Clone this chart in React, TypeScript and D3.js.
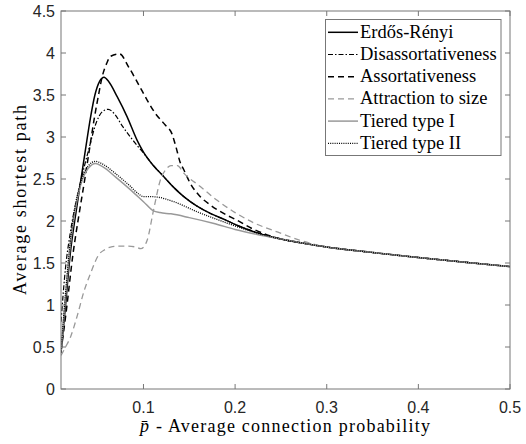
import React from "react";
import * as d3 from "d3";

const W = 526;
const H = 444;
const M = { left: 61, right: 16, top: 11, bottom: 55 };

const xTicks = [0.1, 0.2, 0.3, 0.4, 0.5];
const yTicks = [0, 0.5, 1, 1.5, 2, 2.5, 3, 3.5, 4, 4.5];

// Shared high-density tail (all models converge)
const tailX = [0.25, 0.275, 0.3, 0.35, 0.4, 0.45, 0.5];
const tailY = [1.785, 1.735, 1.69, 1.625, 1.565, 1.51, 1.457];

const erX = [0.01, 0.015, 0.02, 0.027, 0.0367, 0.042, 0.047, 0.052, 0.057, 0.062, 0.0713, 0.0822, 0.0931, 0.1, 0.11, 0.122, 0.133, 0.144, 0.158, 0.173, 0.19, 0.202, 0.228];
const erY = [0.43, 1.0, 1.6, 2.15, 2.85, 3.22, 3.5, 3.66, 3.71, 3.66, 3.48, 3.24, 2.96, 2.82, 2.67, 2.53, 2.4, 2.29, 2.18, 2.09, 2.01, 1.95, 1.845];

const disX = [0.01, 0.015, 0.02, 0.03, 0.04, 0.0495, 0.055, 0.0615, 0.068, 0.077, 0.093, 0.1, 0.11, 0.122, 0.133, 0.144, 0.158, 0.173, 0.19, 0.202, 0.228];
const disY = [0.8, 1.45, 1.85, 2.4, 2.84, 3.2, 3.3, 3.33, 3.28, 3.13, 2.9, 2.81, 2.67, 2.53, 2.4, 2.29, 2.18, 2.09, 2.01, 1.95, 1.85];

const asX = [0.01, 0.016, 0.023, 0.03, 0.036, 0.041, 0.046, 0.0513, 0.055, 0.06, 0.064, 0.0738, 0.084, 0.0949, 0.104, 0.113, 0.124, 0.131, 0.1355, 0.14, 0.144, 0.151, 0.162, 0.173, 0.1875, 0.202, 0.2185, 0.235];
const asY = [0.45, 0.95, 1.6, 2.1, 2.5, 2.85, 3.2, 3.52, 3.72, 3.88, 3.96, 3.99, 3.83, 3.62, 3.44, 3.28, 3.14, 3.04, 2.88, 2.7, 2.61, 2.45, 2.29, 2.19, 2.09, 2.01, 1.91, 1.835];

const atX = [0.01, 0.015, 0.0204, 0.0277, 0.035, 0.042, 0.0513, 0.058, 0.064, 0.072, 0.082, 0.092, 0.097, 0.101, 0.104, 0.111, 0.1185, 0.125, 0.13, 0.137, 0.144, 0.162, 0.18, 0.2, 0.22, 0.246, 0.271, 0.293];
const atY = [0.4, 0.5, 0.62, 0.87, 1.16, 1.37, 1.6, 1.66, 1.69, 1.7, 1.7, 1.69, 1.67, 1.7, 1.77, 2.13, 2.49, 2.62, 2.66, 2.66, 2.57, 2.41, 2.25, 2.1, 1.98, 1.87, 1.77, 1.705];

const t1X = [0.01, 0.015, 0.02, 0.025, 0.03, 0.035, 0.04, 0.0477, 0.055, 0.07, 0.085, 0.1, 0.111, 0.118, 0.13, 0.15, 0.177, 0.2, 0.224];
const t1Y = [0.45, 1.1, 1.7, 2.1, 2.37, 2.54, 2.63, 2.685, 2.65, 2.52, 2.38, 2.23, 2.12, 2.1, 2.085, 2.04, 1.97, 1.9, 1.84];

const t2X = [0.01, 0.015, 0.02, 0.025, 0.03, 0.035, 0.04, 0.0477, 0.055, 0.07, 0.085, 0.095, 0.1, 0.108, 0.115, 0.133, 0.1585, 0.1875, 0.2167];
const t2Y = [0.45, 1.15, 1.75, 2.15, 2.4, 2.57, 2.66, 2.71, 2.68, 2.56, 2.42, 2.32, 2.29, 2.29, 2.285, 2.23, 2.11, 1.99, 1.88];

const legendLabels = ["Erdős-Rényi", "Disassortativeness", "Assortativeness", "Attraction to size", "Tiered type I", "Tiered type II"];

type Series = { name: string; xs: number[]; ys: number[]; color: string; width: number; dash?: string };

const series: Series[] = [
  { name: legendLabels[0], xs: erX, ys: erY, color: "#000", width: 1.5 },
  { name: legendLabels[1], xs: disX, ys: disY, color: "#000", width: 1.2, dash: "5 2 1.5 2" },
  { name: legendLabels[2], xs: asX, ys: asY, color: "#000", width: 1.5, dash: "6 4" },
  { name: legendLabels[3], xs: atX, ys: atY, color: "#999", width: 1.3, dash: "6 4" },
  { name: legendLabels[4], xs: t1X, ys: t1Y, color: "#999", width: 1.5 },
  { name: legendLabels[5], xs: t2X, ys: t2Y, color: "#000", width: 1.3, dash: "1 1.2" },
];

function withTail(xs: number[], ys: number[]): [number, number][] {
  const pts: [number, number][] = xs.map((x, i) => [x, ys[i]]);
  const last = xs[xs.length - 1];
  tailX.forEach((x, i) => {
    if (x > last + 0.005) pts.push([x, tailY[i]]);
  });
  return pts;
}

const serifStyle = { fontFamily: "\"Liberation Serif\"" };
const sansStyle = { fontFamily: "\"Liberation Sans\"" };

export default function App() {
  const x = d3.scaleLinear().domain([0.01, 0.5]).range([M.left, W - M.right]);
  const y = d3.scaleLinear().domain([0, 4.5]).range([H - M.bottom, M.top]);
  const line = d3
    .line<[number, number]>()
    .x((d) => x(d[0]))
    .y((d) => y(d[1]))
    .curve(d3.curveMonotoneX);

  const x0 = M.left, x1 = W - M.right, y0 = H - M.bottom, y1 = M.top;
  const axisColor = "#777";
  const tickLen = 5;

  const lgX = 325.5, lgY = 19.5, lgW = 175.5, lgH = 136, rowH = 22.2;

  return (
    <svg width={W} height={H} style={{ position: "absolute", left: 0, top: 0, background: "#fff" }}>
      <rect x={0} y={0} width={W} height={H} fill="#fff" />
      <defs>
        <clipPath id="plot">
          <rect x={x0} y={y1} width={x1 - x0} height={y0 - y1} />
        </clipPath>
      </defs>
      <g clipPath="url(#plot)">
        {series.map((s) => (
          <path
            key={s.name}
            d={line(withTail(s.xs, s.ys)) || ""}
            fill="none"
            stroke={s.color}
            strokeWidth={s.width}
            strokeDasharray={s.dash}
            strokeLinejoin="round"
          />
        ))}
      </g>
      <rect x={x0} y={y1} width={x1 - x0} height={y0 - y1} fill="none" stroke={axisColor} strokeWidth={1} />
      {xTicks.map((t) => (
        <g key={"xt" + t}>
          <line x1={x(t)} x2={x(t)} y1={y0} y2={y0 - tickLen} stroke={axisColor} />
          <line x1={x(t)} x2={x(t)} y1={y1} y2={y1 + tickLen} stroke={axisColor} />
          <text x={x(t)} y={y0 + 24} textAnchor="middle" style={sansStyle} fontSize={16} fill="#262626">
            {t.toString()}
          </text>
        </g>
      ))}
      {yTicks.map((t) => (
        <g key={"yt" + t}>
          <line x1={x0} x2={x0 + tickLen} y1={y(t)} y2={y(t)} stroke={axisColor} />
          <line x1={x1} x2={x1 - tickLen} y1={y(t)} y2={y(t)} stroke={axisColor} />
          <text x={x0 - 6} y={y(t) + 5.5} textAnchor="end" style={sansStyle} fontSize={16} fill="#262626">
            {t.toString()}
          </text>
        </g>
      ))}
      <text x={285} y={432} textAnchor="middle" style={serifStyle} fontSize={18} fill="#000" textLength={290} lengthAdjust="spacing">
        <tspan fontStyle="italic">p̄</tspan> - Average connection probability
      </text>
      <text
        transform={`translate(26,${(y0 + y1) / 2}) rotate(-90)`}
        textAnchor="middle"
        style={serifStyle}
        fontSize={18}
        fill="#000"
        textLength={190}
        lengthAdjust="spacing"
      >
        Average shortest path
      </text>
      <rect x={lgX} y={lgY} width={lgW} height={lgH} fill="#fff" stroke={axisColor} strokeWidth={1} />
      {series.map((s, i) => {
        const ry = 32.3 + i * rowH;
        return (
          <g key={"lg" + i}>
            <line x1={328} x2={358} y1={ry} y2={ry} stroke={s.color} strokeWidth={s.width} strokeDasharray={s.dash} />
            <text x={360} y={ry + 5.5} style={serifStyle} fontSize={18.5} fill="#000">
              {s.name}
            </text>
          </g>
        );
      })}
    </svg>
  );
}
